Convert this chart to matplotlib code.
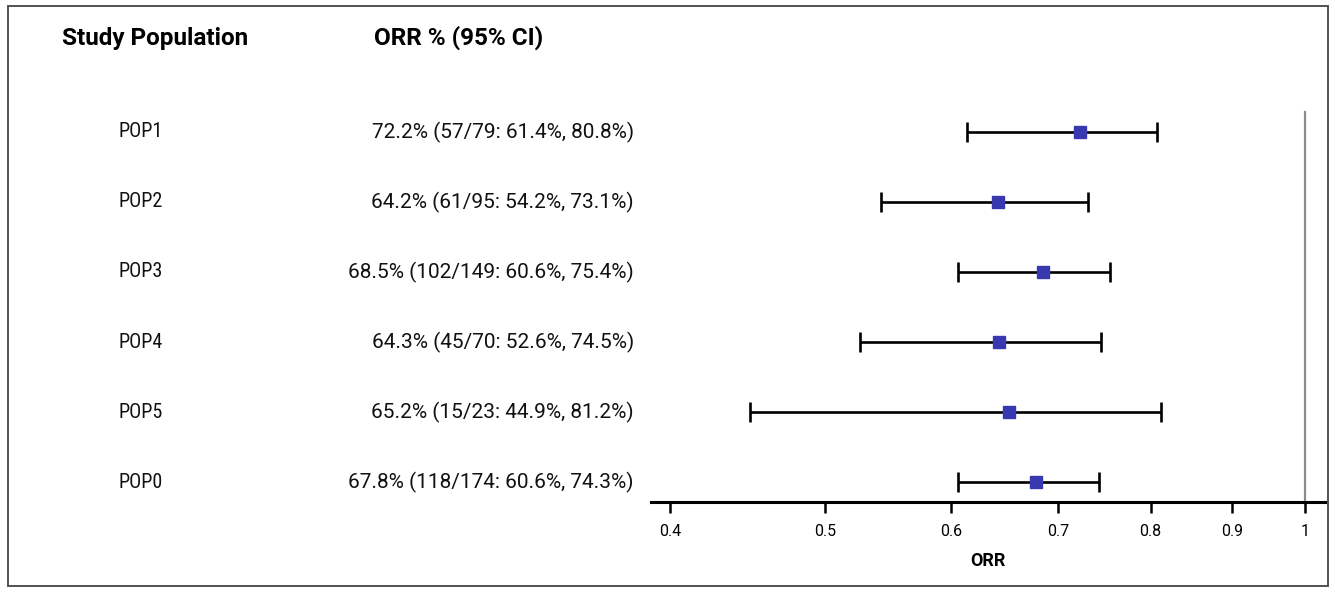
import matplotlib.pyplot as plt
import matplotlib.transforms as mtransforms
from matplotlib.patches import Rectangle
from matplotlib import font_manager
import numpy as np

# data (top row first)
populations = ["POP1", "POP2", "POP3", "POP4", "POP5", "POP0"]
orr = [0.722, 0.642, 0.685, 0.643, 0.652, 0.678]
ci_low = [0.614, 0.542, 0.606, 0.526, 0.449, 0.606]
ci_high = [0.808, 0.731, 0.754, 0.745, 0.812, 0.743]
orr_text = [
    "72.2% (57/79: 61.4%, 80.8%)",
    "64.2% (61/95: 54.2%, 73.1%)",
    "68.5% (102/149: 60.6%, 75.4%)",
    "64.3% (45/70: 52.6%, 74.5%)",
    "65.2% (15/23: 44.9%, 81.2%)",
    "67.8% (118/174: 60.6%, 74.3%)",
]
tick_values = [0.4, 0.5, 0.6, 0.7, 0.8, 0.9, 1.0]
tick_labels = ["0.4", "0.5", "0.6", "0.7", "0.8", "0.9", "1"]

# condensed face for the row labels, regular Roboto for the wider texts
names = {f.name for f in font_manager.fontManager.ttflist}
condensed = [f for f in ["Roboto Condensed", "Liberation Sans Narrow"] if f in names]
wide = ['Roboto', 'DejaVu Sans']
plt.rcParams['font.family'] = wide

W, H = 1335, 592
fig = plt.figure(figsize=(W / 100, H / 100), dpi=100)

# plot area: x 651..1325 px, y 100..502 px (from top)
ax = fig.add_axes([651 / W, (H - 502) / H, (1325 - 651) / W, (502 - 100) / H])

n = len(populations)
ypos = np.arange(n)[::-1]  # POP1 on top
err = [np.array(orr) - np.array(ci_low), np.array(ci_high) - np.array(orr)]

ax.errorbar(orr, ypos, xerr=err, fmt='s', color='#3838b0', markersize=8,
            ecolor='black', elinewidth=1.9, capsize=7, capthick=1.9, zorder=3)

ax.set_xscale('log')
ax.set_xlim(0.389, 1.029)
ax.set_ylim(-20 / 70, 5 + 32 / 70)
ax.axvline(1.0, ymin=0, ymax=(5 + 20 / 70 + 20 / 70) / (5 + 32 / 70 + 20 / 70),
           color='#8c8c8c', lw=1.6, zorder=1)

for s in ['top', 'right', 'left']:
    ax.spines[s].set_visible(False)
ax.spines['bottom'].set_linewidth(2.2)
ax.set_yticks([])
ax.xaxis.set_minor_locator(plt.NullLocator())
ax.set_xticks(tick_values)
ax.set_xticklabels(tick_labels)
ax.tick_params(axis='x', length=8, width=1.8, pad=8, labelsize=11.5)
ax.set_xlabel("ORR", fontsize=13, fontweight='bold', labelpad=9)

# text columns: x in figure fraction, y in data
trans = mtransforms.blended_transform_factory(fig.transFigure, ax.transData)
for i in range(n):
    ax.text(141 / W, ypos[i], populations[i], transform=trans, ha='center',
            va='center', fontsize=14.5, color='#111111',
            family=condensed + wide, clip_on=False)
    ax.text(634 / W, ypos[i], orr_text[i], transform=trans, ha='right',
            va='center', fontsize=15, color='#111111', clip_on=False)

header_y = 5 + 94 / 70
ax.text(62 / W, header_y, "Study Population", transform=trans, ha='left',
        va='center', fontsize=17.5, fontweight='bold', clip_on=False)
ax.text(374 / W, header_y, "ORR % (95% CI)", transform=trans, ha='left',
        va='center', fontsize=17.5, fontweight='bold', clip_on=False)

# outer frame
fig.patches.append(Rectangle((8 / W, 6 / H), (1328 - 8) / W, (586 - 6) / H,
                             transform=fig.transFigure, fill=False,
                             edgecolor='#444444', lw=1.3))

fig.savefig("out.png", dpi=100)
